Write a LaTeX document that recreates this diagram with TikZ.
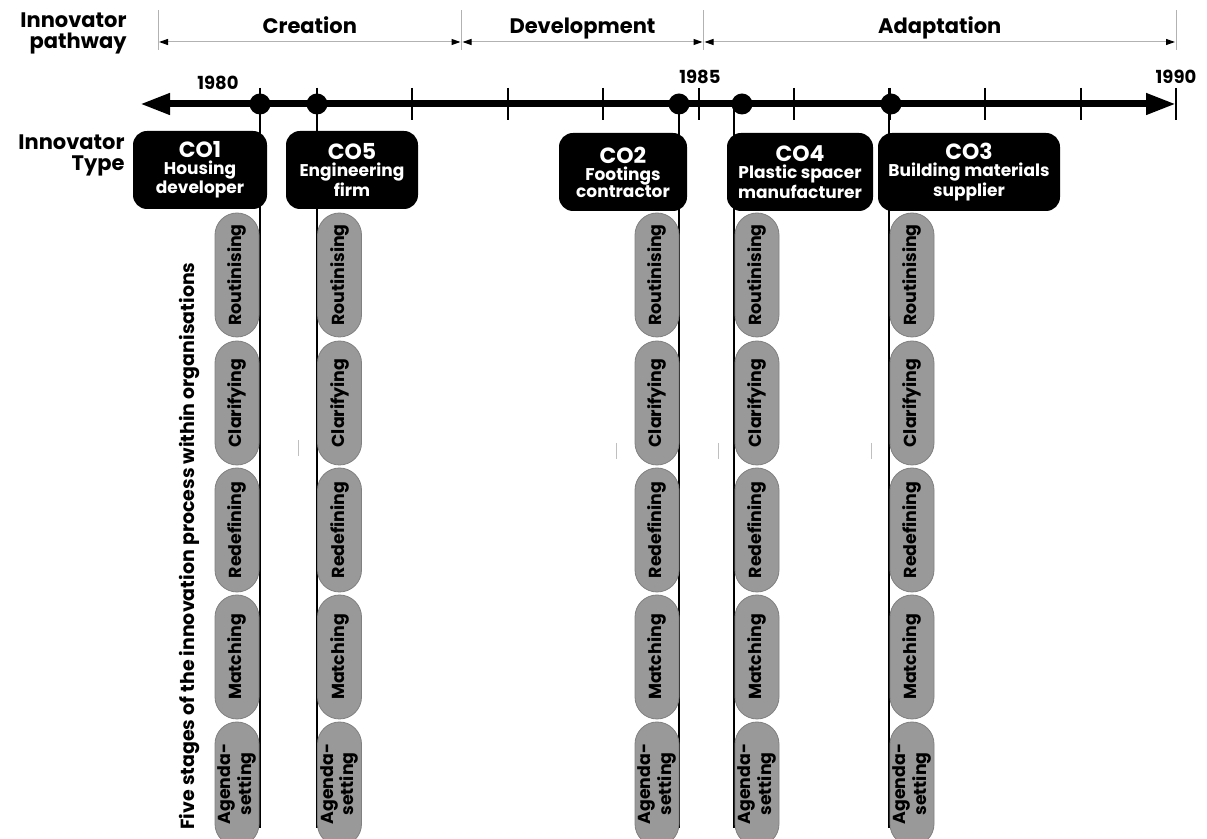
\documentclass[tikz,border=0pt]{standalone}
\usepackage{fontspec}
\setmainfont{Poppins}
\usetikzlibrary{arrows.meta,shapes.misc,positioning}

\tikzset{
  heading/.style={font=\bfseries\fontsize{10.5}{10.5}\selectfont, align=right, inner sep=0pt},
  phaseline/.style={draw=black!30, line width=0.5pt},
  phasearrow/.style={draw=black!30, line width=0.5pt,
    {Triangle[length=4.5pt,width=3pt,color=black]}-{Triangle[length=4.5pt,width=3pt,color=black]}},
  phaselabel/.style={midway, anchor=base, yshift=4pt, inner sep=0pt,
    font=\bfseries\fontsize{10.5}{10.5}\selectfont},
  timeline/.style={line width=3.5pt,
    {Triangle[length=15pt,width=10pt]}-{Triangle[length=15pt,width=10pt]}},
  yeartick/.style={line width=1pt},
  year/.style={font=\bfseries\fontsize{9}{9}\selectfont, inner sep=0pt},
  dot/.style={circle, fill=black, inner sep=0pt, minimum size=10.5pt},
  lifeline/.style={line width=1pt},
  orgbox/.style={fill=black, text=white, rounded corners=7pt, align=center,
    inner sep=0pt, minimum height=39pt, font=\bfseries\fontsize{8.5}{8.5}\selectfont},
  stage/.style={rounded rectangle, rotate=90, fill=black!40, draw=black!50,
    line width=0.4pt, minimum width=62pt, minimum height=22pt, inner sep=0pt,
    align=center, font=\bfseries\fontsize{8.7}{8.5}\selectfont},
  sidelabel/.style={rotate=90, inner sep=0pt, font=\bfseries\fontsize{9.5}{9.5}\selectfont},
  faint/.style={draw=black!25, line width=0.5pt}
}

\begin{document}
\begin{tikzpicture}[x=0.5pt,y=-0.5pt]
  \useasboundingbox (0,0) rectangle (1207,839);
  \clip (0,0) rectangle (1207,839);

  % Row headings
  \node[heading, anchor=east] (pw) at (127,33) {Innovator\\pathway};
  \node[heading, anchor=east] (it) at (125,155) {Innovator\\Type};

  % Innovator pathway
  \coordinate (p0) at (158,42);
  \coordinate (p1) at (461.5,42);
  \coordinate (p2) at (703.5,42);
  \coordinate (p3) at (1176,42);
  \foreach \p in {p0,p1,p2,p3}
    \draw[phaseline] (\p) ++(0,-32) -- ++(0,40);
  \draw[phasearrow] ([xshift=0.5pt]p0) -- node[phaselabel] {Creation} ([xshift=-0.5pt]p1);
  \draw[phasearrow] ([xshift=0.5pt]p1) -- node[phaselabel] {Development} ([xshift=-0.5pt]p2);
  \draw[phasearrow] ([xshift=0.5pt]p2) -- node[phaselabel] {Adaptation} ([xshift=-0.5pt]p3);

  % Time line
  \coordinate (t0) at (140,104);
  \coordinate (t1) at (1176,104);
  \draw[timeline] (t0) -- (t1);
  \foreach \k in {1,...,10}
    \draw[yeartick] (221+95.5*\k,88) -- (221+95.5*\k,120);
  \node[year] (y80) at (218,83) {1980};
  \node[year] (y85) at (700,77) {1985};
  \node[year] (y90) at (1176,77) {1990};

  % Life lines of the organisations
  \draw[lifeline] (260,88) -- (260,828);
  \draw[lifeline] (317,88) -- (317,828);
  \draw[lifeline] (679,104) -- (679,828);
  \draw[lifeline] (734,104) -- (734,828);
  \draw[lifeline] (889,88) -- (889,828);
  \node[dot] (d1) at (260,104) {};
  \node[dot] (d5) at (317,104) {};
  \node[dot] (d2) at (679,104) {};
  \node[dot] (d4) at (742,104) {};
  \node[dot] (d3) at (891,104) {};

  % Innovator types
  \node[orgbox, minimum width=67pt] (co1) at (200,170)
    {{\fontsize{11}{11}\selectfont CO1}\\Housing\\developer};
  \node[orgbox, minimum width=66pt] (co5) at (352,170)
    {{\fontsize{11}{11}\selectfont CO5}\\Engineering\\firm};
  \node[orgbox, minimum width=64pt] (co2) at (623,172)
    {{\fontsize{11}{11}\selectfont CO2}\\Footings\\contractor};
  \node[orgbox, minimum width=73pt] (co4) at (800,172)
    {{\fontsize{11}{11}\selectfont CO4}\\Plastic spacer\\manufacturer};
  \node[orgbox, minimum width=91pt] (co3) at (969,172)
    {{\fontsize{11}{11}\selectfont CO3}\\Building materials\\supplier};

  % Five stages for each organisation
  \foreach \n/\x in {1/237,5/339.5,2/657,4/757,3/912}
    \foreach \s/\y/\t in {r/275/Routinising,c/403/Clarifying,d/530/Redefining,
                          m/657/Matching,a/784/{Agenda-\\setting}}
      \node[stage] (s\n\s) at (\x,\y) {\t};

  \node[sidelabel] (fs) at (190,546)
    {Five stages of the innovation process within organisations};

  % stray marks
  \foreach \x/\y in {298/440,616/443,718/443,871/443}
    \draw[faint] (\x,\y) -- (\x,\y+16);
\end{tikzpicture}
\end{document}
